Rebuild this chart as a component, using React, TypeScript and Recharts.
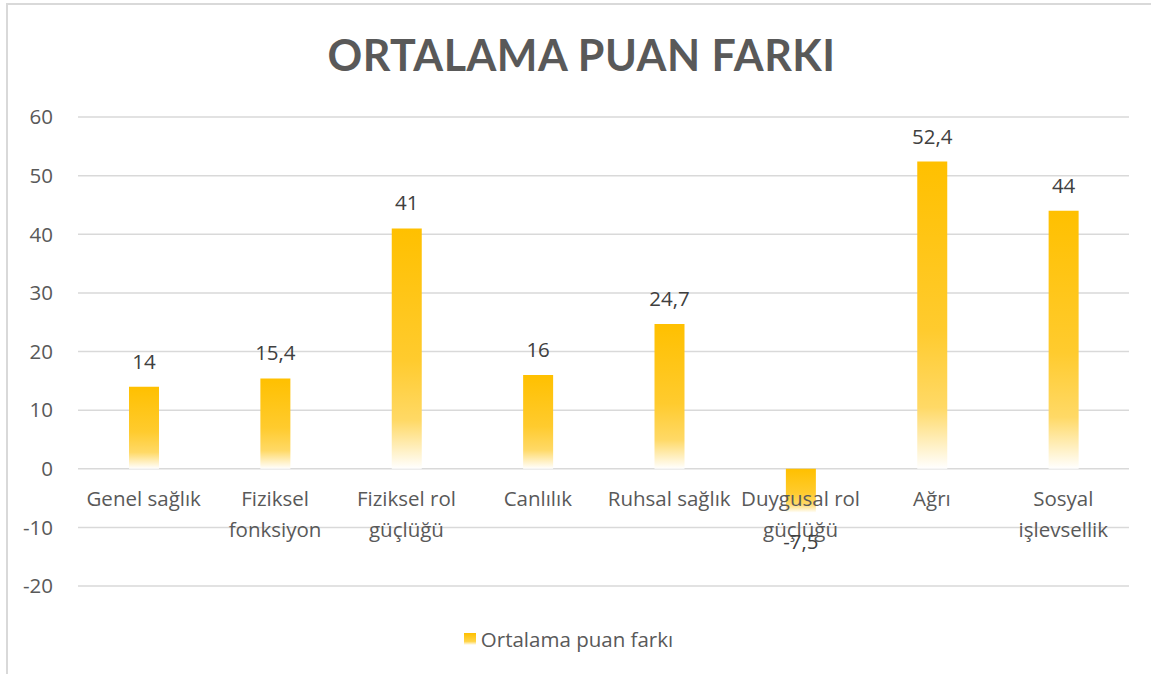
import React from "react";
import { BarChart, Bar, XAxis, YAxis, CartesianGrid, Legend, LabelList } from "recharts";

const categories = [
  "Genel sağlık",
  "Fiziksel fonksiyon",
  "Fiziksel rol güçlüğü",
  "Canlılık",
  "Ruhsal sağlık",
  "Duygusal rol güçlüğü",
  "Ağrı",
  "Sosyal işlevsellik",
];

// how each category label wraps onto lines under the zero line
const categoryLines = [
  ["Genel sağlık"],
  ["Fiziksel", "fonksiyon"],
  ["Fiziksel rol", "güçlüğü"],
  ["Canlılık"],
  ["Ruhsal sağlık"],
  ["Duygusal rol", "güçlüğü"],
  ["Ağrı"],
  ["Sosyal", "işlevsellik"],
];

const scoreDiff = [14, 15.4, 41, 16, 24.7, -7.5, 52.4, 44];
const yTicks = [-20, -10, 0, 10, 20, 30, 40, 50, 60];

const seriesName = "Ortalama puan farkı";
const FONT = "'Open Sans', sans-serif";
const TEXT = "#595959";
const FS = 20.5;

const data = categories.map((name, i) => ({ name, value: scoreDiff[i] }));

// distance in px from the plot bottom (-20) up to the zero line
const ZERO_SHIFT = 117;

const fmt = (v: number) => String(v).replace(".", ",");

const CategoryTick = (props: any) => {
  const { x, y, index } = props;
  const lines = categoryLines[index] || [String(props.payload?.value)];
  const base = y - ZERO_SHIFT + 37;
  return (
    <text x={x} y={base} textAnchor="middle" fill={TEXT} fontSize={FS} fontFamily={FONT}>
      {lines.map((l: string, i: number) => (
        <tspan key={i} x={x} y={base + i * 31}>
          {l}
        </tspan>
      ))}
    </text>
  );
};

const ValueLabel = (props: any) => {
  const { x, y, width, height, value } = props;
  const top = Math.min(y, y + height);
  const bottom = Math.max(y, y + height);
  const cx = x + width / 2;
  const ty = value < 0 ? bottom + 36 : top - 18;
  return (
    <text x={cx} y={ty} textAnchor="middle" fill="#404040" fontSize={FS} fontFamily={FONT}>
      {fmt(value)}
    </text>
  );
};

const LegendBox = () => (
  <div
    style={{
      display: "flex",
      justifyContent: "center",
      alignItems: "center",
      paddingTop: 7,
      fontFamily: FONT,
      fontSize: FS,
      color: TEXT,
    }}
  >
    <span
      style={{
        display: "inline-block",
        width: 12,
        height: 12,
        marginRight: 5,
        background: "linear-gradient(#FFC000, #FFD447 70%, #ffffff)",
      }}
    />
    {seriesName}
  </div>
);

export default function App() {
  return (
    <div style={{ position: "fixed", left: 0, top: 0, width: 1151, height: 674, overflow: "hidden", background: "#fff" }}>
      <div
        style={{
          position: "absolute",
          left: 6,
          top: 3,
          width: 1400,
          height: 900,
          border: "2px solid #d9d9d9",
        }}
      />
      <div
        style={{
          position: "absolute",
          left: 0,
          top: 29,
          width: 1163,
          textAlign: "center",
          fontFamily: "Lato, sans-serif",
          fontWeight: 700,
          fontSize: 43,
          color: TEXT,
          letterSpacing: 0.5,
        }}
      >
        ORTALAMA PUAN FARKI
      </div>
      <div style={{ position: "absolute", left: 0, top: 0 }}>
        <BarChart width={1151} height={674} data={data} margin={{ top: 117, right: 22, bottom: 20, left: 8 }}>
          <defs>
            <linearGradient id="barFade" x1="0" y1="0" x2="0" y2="1">
              <stop offset="0%" stopColor="#FFC000" />
              <stop offset="55%" stopColor="#FFCB2E" />
              <stop offset="80%" stopColor="#FFD966" />
              <stop offset="100%" stopColor="#FFFFFF" />
            </linearGradient>
          </defs>
          <CartesianGrid vertical={false} stroke="#d9d9d9" strokeWidth={1.5} />
          <XAxis
            dataKey="name"
            axisLine={false}
            tickLine={false}
            tickSize={0}
            tickMargin={0}
            height={32}
            interval={0}
            tick={<CategoryTick />}
          />
          <YAxis
            domain={[-20, 60]}
            ticks={yTicks}
            width={70}
            axisLine={false}
            tickLine={false}
            tickMargin={19}
            tick={{ fill: TEXT, fontSize: FS, fontFamily: FONT }}
          />
          <Legend verticalAlign="bottom" height={36} content={<LegendBox />} />
          <Bar dataKey="value" name={seriesName} fill="url(#barFade)" barSize={30} isAnimationActive={false}>
            <LabelList dataKey="value" content={<ValueLabel />} />
          </Bar>
        </BarChart>
      </div>
    </div>
  );
}
